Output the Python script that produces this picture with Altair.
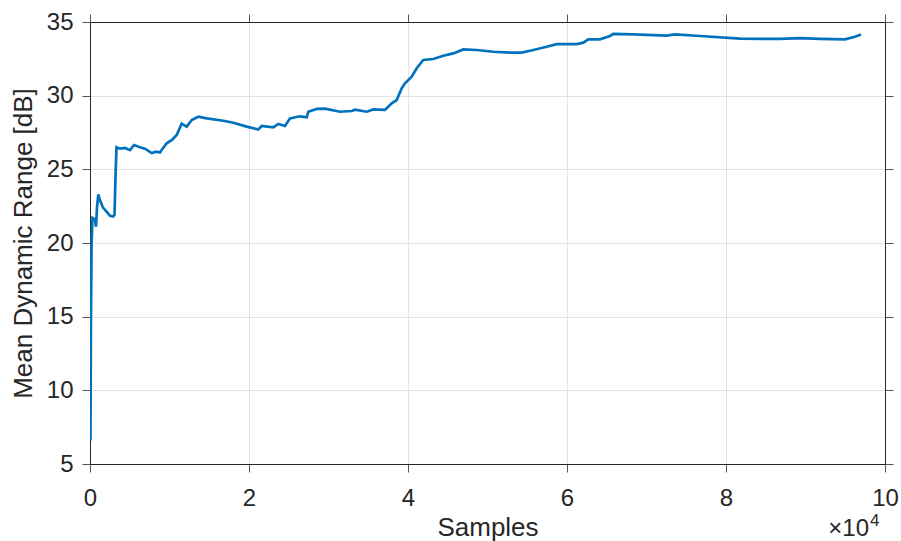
import altair as alt
import pandas as pd

# Samples (x) and mean dynamic range in dB (y)
samples = [60, 120, 200, 314, 629, 755, 880, 1044, 1258, 1635, 2138, 2516, 2893, 3082,
           3208, 3333, 3774, 4403, 5031, 5535, 6289, 6918, 7761, 8302, 8805, 9057,
           9648, 10314, 10906, 11535, 12164, 12792, 13623, 14679, 16767, 18025,
           19711, 21170, 21598, 23057, 23686, 24528, 25157, 26415, 27258, 27459,
           28516, 29560, 31447, 32918, 33333, 34805, 35635, 37107, 37950, 38579,
           39208, 39623, 40465, 41094, 41925, 43182, 44440, 45698, 46956, 48642,
           50730, 52830, 54302, 55761, 57447, 58704, 61220, 62050, 62679, 64151,
           65409, 65824, 68340, 72541, 73585, 76730, 81761, 86792, 89308, 91824,
           94969, 96226, 96981]
dyn_range = [6.6, 15.0, 20.0, 21.7, 21.6, 21.1, 22.4, 23.3, 22.9, 22.4, 22.1, 21.85, 21.8, 21.9,
             24.5, 26.5, 26.4, 26.45, 26.3, 26.65, 26.5, 26.4, 26.1, 26.2, 26.15, 26.35,
             26.77, 27.0, 27.33, 28.1, 27.9, 28.35, 28.57, 28.46, 28.3, 28.16,
             27.9, 27.7, 27.94, 27.85, 28.08, 27.94, 28.46, 28.6, 28.53, 28.91,
             29.1, 29.12, 28.91, 28.96, 29.05, 28.91, 29.07, 29.03, 29.48, 29.7,
             30.5, 30.84, 31.29, 31.86, 32.42, 32.49, 32.71, 32.87, 33.14, 33.1,
             32.98, 32.92, 32.92, 33.1, 33.32, 33.5, 33.5, 33.6, 33.82, 33.82,
             34.05, 34.19, 34.16, 34.07, 34.16, 34.05, 33.87, 33.85, 33.9, 33.85,
             33.82, 34.0, 34.15]

x_ticks = [0, 20000, 40000, 60000, 80000, 100000]
y_ticks = [5, 10, 15, 20, 25, 30, 35]

df = pd.DataFrame({"samples": samples, "dr": dyn_range})

FONT = "Liberation Sans"
DARK = "#262626"
GRID = "#e3e3e3"

xscale = alt.Scale(domain=[0, 100000], nice=False, zero=False)
yscale = alt.Scale(domain=[5, 35], nice=False, zero=False)

main = alt.Chart(df).mark_line(color="#0072BD", strokeWidth=2.7, clip=True).encode(
    x=alt.X("samples:Q", scale=xscale,
            axis=alt.Axis(values=x_ticks, labelExpr="datum.value / 10000",
                          title="Samples", grid=True, gridColor=GRID,
                          domainColor=DARK, tickColor="#555555", tickSize=8,
                          labelFlush=False, labelOverlap=False,
                          labelPadding=14, labelFontSize=24, labelColor=DARK,
                          titleFontSize=26, titleFontWeight="normal", titleColor=DARK,
                          titlePadding=4, labelFont=FONT, titleFont=FONT)),
    y=alt.Y("dr:Q", scale=yscale,
            axis=alt.Axis(values=y_ticks, title="Mean Dynamic Range [dB]", grid=True,
                          gridColor=GRID, domainColor=DARK, tickColor="#555555",
                          tickSize=8, labelPadding=9, labelFontSize=24, labelColor=DARK,
                          labelFlush=False, labelOverlap=False,
                          titleFontSize=26, titleFontWeight="normal", titleColor=DARK,
                          titlePadding=10, labelFont=FONT, titleFont=FONT)),
)

box = alt.Chart(df).mark_line(opacity=0).encode(
    x=alt.X("samples:Q", scale=xscale,
            axis=alt.Axis(orient="top", values=x_ticks, labels=False, title=None, grid=False,
                          domainColor=DARK, tickColor="#555555", tickSize=8)),
    y=alt.Y("dr:Q", scale=yscale,
            axis=alt.Axis(orient="right", values=y_ticks, labels=False, title=None, grid=False,
                          domainColor=DARK, tickColor="#555555", tickSize=8)),
)

exp_df = pd.DataFrame({"base": ["×10"], "sup": ["4"]})
exp_base = alt.Chart(exp_df).mark_text(align="right", baseline="alphabetic", fontSize=24,
                                       font=FONT, color=DARK).encode(
    x=alt.value(779), y=alt.value(514), text="base:N")
exp_sup = alt.Chart(exp_df).mark_text(align="left", baseline="alphabetic", fontSize=17,
                                      font=FONT, color=DARK).encode(
    x=alt.value(780), y=alt.value(504), text="sup:N")

chart = alt.layer(main, box, exp_base, exp_sup).resolve_axis(
    x="independent", y="independent"
).properties(
    width=795, height=442,
    autosize=alt.AutoSizeParams(type="none"),
    padding={"left": 90, "top": 22, "right": 16, "bottom": 77},
    background="white",
).configure_view(stroke=None)

chart.save("out.html", embed_options={"renderer": "svg", "actions": False})
